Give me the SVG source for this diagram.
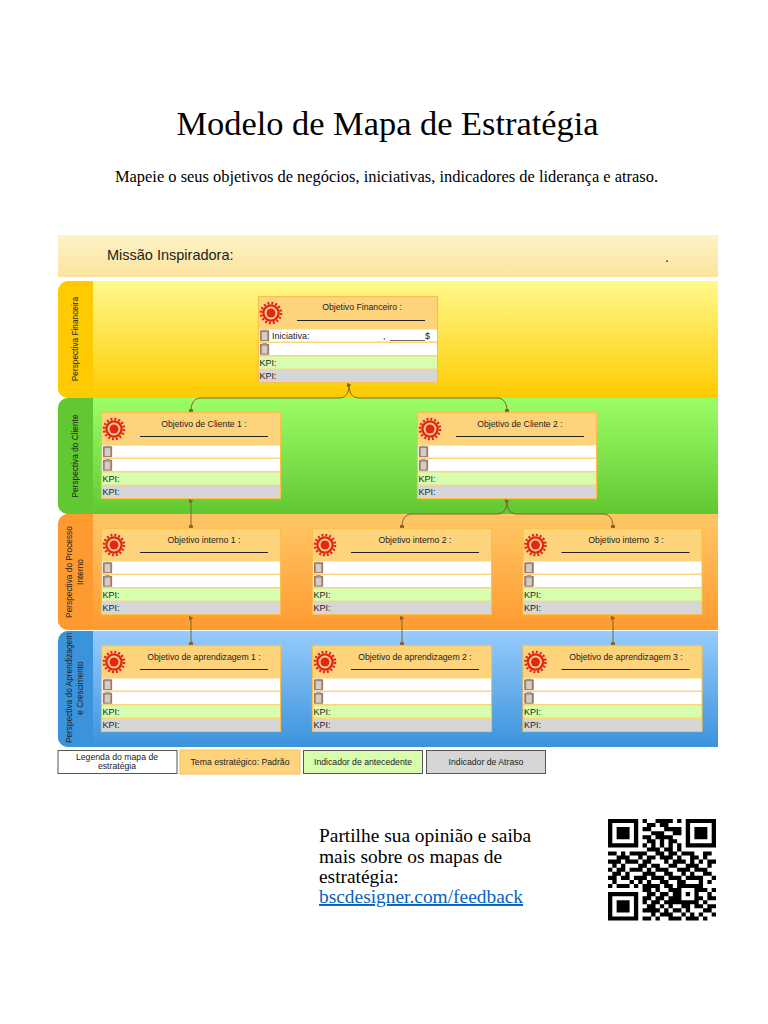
<svg xmlns="http://www.w3.org/2000/svg" width="768" height="1024" viewBox="0 0 768 1024">
<defs>
<linearGradient id="gM" x1="0" y1="0" x2="0" y2="1"><stop offset="0" stop-color="#fdf2c6"/><stop offset="1" stop-color="#fbe49f"/></linearGradient>
<linearGradient id="gF" x1="0" y1="0" x2="0" y2="1"><stop offset="0" stop-color="#fff98c"/><stop offset="1" stop-color="#ffcb00"/></linearGradient>
<linearGradient id="gC" x1="0" y1="0" x2="0" y2="1"><stop offset="0" stop-color="#9cfe66"/><stop offset="1" stop-color="#62c832"/></linearGradient>
<linearGradient id="gP" x1="0" y1="0" x2="0" y2="1"><stop offset="0" stop-color="#ffc766"/><stop offset="1" stop-color="#ff9a30"/></linearGradient>
<linearGradient id="gL" x1="0" y1="0" x2="0" y2="1"><stop offset="0" stop-color="#96cbfd"/><stop offset="1" stop-color="#3b93dc"/></linearGradient>
<symbol id="gear" width="26" height="26" viewBox="-13 -13 26 26" overflow="visible">
<circle r="10" fill="none" stroke="#e3261c" stroke-width="2.6" stroke-dasharray="2 1.93"/>
<circle r="7.600" fill="#fdd47c" stroke="#e3261c" stroke-width="2.400"/>
<circle r="4.500" fill="#e3261c"/>
</symbol>
<symbol id="clip" width="10" height="12" viewBox="0 0 10 12">
<rect x="0.2" y="0.8" width="9.600" height="11" rx="1" fill="#a5796a"/>
<rect x="2.200" y="2.600" width="5.600" height="8" fill="#cfcfc4"/>
<rect x="3" y="0" width="4" height="2" fill="#9a9a9a"/>
</symbol>
<symbol id="box" width="180" height="87" viewBox="0 0 180 87" overflow="visible">
<rect x="0.5" y="0.5" width="179" height="86" fill="#fdd47c" stroke="#fbc04a" stroke-width="1.200"/>
<rect x="1" y="33.500" width="178" height="12" fill="#fff"/>
<rect x="1" y="47" width="178" height="12" fill="#fff"/>
<rect x="1" y="60.500" width="178" height="12" fill="#d7fdaf"/>
<rect x="1" y="74" width="178" height="12" fill="#d6d6d6"/>
<use href="#gear" x="0" y="4"/>
<use href="#clip" x="1.500" y="33.500"/>
<use href="#clip" x="1.500" y="47"/>
<path d="M39 24.500h128" stroke="#222" stroke-width="1" fill="none"/>
<text class="k" x="1.500" y="70">KPI:</text>
<text class="k" x="1.500" y="83">KPI:</text>
</symbol>
<marker id="aU" markerWidth="5" markerHeight="5" refX="2.500" refY="2.500" orient="auto"><path d="M0 5L2.500 0L5 5Z" fill="#80642a"/></marker>
<marker id="aD" markerWidth="5" markerHeight="5" refX="2.500" refY="2.500"><rect x="0.5" y="0.5" width="4" height="4" rx="1" fill="#80642a"/></marker>
</defs>
<style>
text{font-family:"Liberation Sans",Arial,sans-serif;fill:#222}
.s{font-family:"Liberation Serif","Times New Roman",serif;fill:#000}
.k{font-size:9px}
.h{font-size:8.700px;text-anchor:middle}
.v{font-size:8.300px;text-anchor:middle}
.l{font-size:8.700px;text-anchor:middle}
.c{fill:none;stroke:#80642a;stroke-width:1}
</style>
<rect width="768" height="1024" fill="#fff"/>
<text class="s" x="387.500" y="135" font-size="34.400" text-anchor="middle">Modelo de Mapa de Estratégia</text>
<text class="s" x="386.500" y="182" font-size="16.450" text-anchor="middle">Mapeie o seus objetivos de negócios, iniciativas, indicadores de liderança e atraso.</text>
<g id="bands">
<rect x="58" y="235" width="660" height="42" fill="url(#gM)"/>
<text x="107" y="260" font-size="14.500">Missão Inspiradora:</text>
<text x="665" y="262" font-size="14">.</text>
<path d="M68 281H718V398H68A10 10 0 0 1 58 388V291A10 10 0 0 1 68 281Z" fill="url(#gF)"/>
<path d="M68 281H93V398H68A10 10 0 0 1 58 388V291A10 10 0 0 1 68 281Z" fill="#ffcb00"/>
<path d="M68 398H718V514H68A10 10 0 0 1 58 504V408A10 10 0 0 1 68 398Z" fill="url(#gC)"/>
<path d="M68 398H93V514H68A10 10 0 0 1 58 504V408A10 10 0 0 1 68 398Z" fill="#62c832"/>
<path d="M68 514H718V630H68A10 10 0 0 1 58 620V524A10 10 0 0 1 68 514Z" fill="url(#gP)"/>
<path d="M68 514H93V630H68A10 10 0 0 1 58 620V524A10 10 0 0 1 68 514Z" fill="#ff9a30"/>
<path d="M68 631H718V747H68A10 10 0 0 1 58 737V641A10 10 0 0 1 68 631Z" fill="url(#gL)"/>
<path d="M68 631H93V747H68A10 10 0 0 1 58 737V641A10 10 0 0 1 68 631Z" fill="#3b93dc"/>
<text class="v" transform="translate(78 339) rotate(-90)">Perspectiva Financeira</text>
<text class="v" transform="translate(78 456) rotate(-90)">Perspectiva do Cliente</text>
<text class="v" transform="translate(72 572) rotate(-90)">Perspectiva do Processo</text>
<text class="v" transform="translate(83 572) rotate(-90)">Interno</text>
<text class="v" transform="translate(72 688) rotate(-90)">Perspectiva do Aprendizagem</text>
<text class="v" transform="translate(83 688) rotate(-90)">e Crescimento</text>
</g>
<g id="connectors">
<path class="c" d="M349 385C349 394 345 398 339 398H201C195 398 191 402 191 411" marker-start="url(#aU)" marker-end="url(#aD)"/>
<path class="c" d="M349 385C349 394 353 398 359 398H497C503 398 507 402 507 411" marker-end="url(#aD)"/>
<path class="c" d="M191 501V527" marker-start="url(#aU)" marker-end="url(#aD)"/>
<path class="c" d="M507 501C507 510 503 514 497 514H412C406 514 402 518 402 527" marker-start="url(#aU)" marker-end="url(#aD)"/>
<path class="c" d="M507 501C507 510 511 514 517 514H603C609 514 613 518 613 527" marker-end="url(#aD)"/>
<path class="c" d="M191 618V644" marker-start="url(#aU)" marker-end="url(#aD)"/>
<path class="c" d="M402 618V644" marker-start="url(#aU)" marker-end="url(#aD)"/>
<path class="c" d="M613 618V644" marker-start="url(#aU)" marker-end="url(#aD)"/>
</g>
<g id="n-fin"><use href="#box" x="258" y="296"/><text class="h" x="362" y="310">Objetivo Financeiro :</text><text class="k" x="272" y="339">Iniciativa:</text><text class="k" x="383" y="339">,</text><text class="k" x="390" y="339">_______$</text></g>
<g id="n-c1"><use href="#box" x="101" y="412"/><text class="h" x="204" y="427">Objetivo de Cliente 1 :</text></g>
<g id="n-c2"><use href="#box" x="417" y="412"/><text class="h" x="520" y="427">Objetivo de Cliente 2 :</text></g>
<g id="n-p1"><use href="#box" x="101" y="528"/><text class="h" x="204" y="543">Objetivo interno 1 :</text></g>
<g id="n-p2"><use href="#box" x="312" y="528"/><text class="h" x="415" y="543">Objetivo interno 2 :</text></g>
<g id="n-p3"><use href="#box" x="522.500" y="528"/><text class="h" x="626" y="543" xml:space="preserve">Objetivo interno  3 :</text></g>
<g id="n-l1"><use href="#box" x="101" y="645"/><text class="h" x="204" y="660">Objetivo de aprendizagem 1 :</text></g>
<g id="n-l2"><use href="#box" x="312" y="645"/><text class="h" x="415" y="660">Objetivo de aprendizagem 2 :</text></g>
<g id="n-l3"><use href="#box" x="522.500" y="645"/><text class="h" x="626" y="660">Objetivo de aprendizagem 3 :</text></g>
<g id="legend">
<rect x="58" y="750.500" width="119" height="23" fill="#fff" stroke="#555"/>
<text class="l" x="117" y="759.500">Legenda do mapa de</text><text class="l" x="117" y="768.500">estratégia</text>
<rect x="180" y="750" width="120" height="24" fill="#fdd47c" stroke="#f9c14c"/>
<text class="l" x="240" y="764.500">Tema estratégico: Padrão</text>
<rect x="303.500" y="750.500" width="119" height="23" fill="#d7fdaf" stroke="#555"/>
<text class="l" x="363" y="764.500">Indicador de antecedente</text>
<rect x="426.500" y="750.500" width="119" height="23" fill="#d6d6d6" stroke="#555"/>
<text class="l" x="486" y="764.500">Indicador de Atraso</text>
</g>
<g id="footer">
<text class="s" x="319" y="842" font-size="19.400">Partilhe sua opinião e saiba</text>
<text class="s" x="319" y="863" font-size="19.400">mais sobre os mapas de</text>
<text class="s" x="319" y="883" font-size="19.400">estratégia:</text>
<text class="s" x="319" y="903" font-size="19.400" style="fill:#0563c1" text-decoration="underline">bscdesigner.com/feedback</text>
</g>
<g id="qr" transform="translate(608 819) scale(4.320 4.060)">
<path fill="#000" fill-rule="evenodd" d="M0 0h7v7h-7zM1 1v5h5v-5zM2 2h3v3h-3zM18 0h7v7h-7zM19 1v5h5v-5zM20 2h3v3h-3zM0 18h7v7h-7zM1 19v5h5v-5zM2 20h3v3h-3z"/>
<path fill="#000" d="M8 0h1v1h-1zM11 0h4v1h-4zM16 0h1v1h-1z
M9 1h2v1h-2zM12 1h2v1h-2z
M8 2h2v1h-2zM13 2h4v1h-4z
M10 3h3v1h-3zM15 3h2v1h-2z
M8 4h2v1h-2zM11 4h4v1h-4z
M9 5h2v1h-2zM12 5h1v1h-1zM14 5h2v1h-2z
M8 6h1v1h-1zM10 6h1v1h-1zM12 6h1v1h-1zM14 6h1v1h-1zM16 6h1v1h-1z
M9 7h3v1h-3zM13 7h2v1h-2zM16 7h1v1h-1z
M0 8h2v1h-2zM3 8h1v1h-1zM5 8h4v1h-4zM11 8h2v1h-2zM14 8h2v1h-2zM17 8h3v1h-3zM22 8h2v1h-2z
M2 9h3v1h-3zM7 9h1v1h-1zM9 9h2v1h-2zM12 9h3v1h-3zM16 9h1v1h-1zM19 9h2v1h-2zM22 9h1v1h-1z
M0 10h3v1h-3zM4 10h3v1h-3zM8 10h2v1h-2zM13 10h1v1h-1zM15 10h3v1h-3zM19 10h1v1h-1zM21 10h1v1h-1zM23 10h2v1h-2z
M1 11h1v1h-1zM3 11h1v1h-1zM7 11h2v1h-2zM10 11h2v1h-2zM14 11h2v1h-2zM18 11h3v1h-3zM23 11h1v1h-1z
M0 12h1v1h-1zM2 12h2v1h-2zM5 12h3v1h-3zM9 12h1v1h-1zM11 12h3v1h-3zM16 12h3v1h-3zM20 12h3v1h-3z
M1 13h2v1h-2zM4 13h1v1h-1zM8 13h3v1h-3zM13 13h2v1h-2zM17 13h1v1h-1zM19 13h1v1h-1zM22 13h2v1h-2z
M0 14h2v1h-2zM3 14h2v1h-2zM6 14h3v1h-3zM10 14h3v1h-3zM14 14h3v1h-3zM18 14h4v1h-4zM24 14h1v1h-1z
M1 15h1v1h-1zM5 15h1v1h-1zM7 15h1v1h-1zM9 15h1v1h-1zM12 15h2v1h-2zM16 15h2v1h-2zM21 15h1v1h-1zM23 15h1v1h-1z
M0 16h1v1h-1zM2 16h3v1h-3zM6 16h1v1h-1zM8 16h4v1h-4zM13 16h2v1h-2zM16 16h5v1h-5zM21 16h1v1h-1z
M8 17h2v1h-2zM11 17h1v1h-1zM14 17h3v1h-3zM20 17h3v1h-3zM24 17h1v1h-1z
M9 18h2v1h-2zM12 18h2v1h-2zM15 18h2v1h-2zM18 18h1v1h-1zM20 18h1v1h-1zM23 18h1v1h-1z
M8 19h2v1h-2zM11 19h2v1h-2zM14 19h3v1h-3zM20 19h2v1h-2zM23 19h2v1h-2z
M8 20h1v1h-1zM10 20h2v1h-2zM13 20h8v1h-8zM22 20h1v1h-1z
M9 21h2v1h-2zM12 21h1v1h-1zM14 21h1v1h-1zM17 21h2v1h-2zM20 21h2v1h-2zM23 21h2v1h-2z
M8 22h4v1h-4zM13 22h1v1h-1zM15 22h2v1h-2zM18 22h1v1h-1zM22 22h2v1h-2z
M10 23h1v1h-1zM12 23h3v1h-3zM17 23h1v1h-1zM19 23h1v1h-1zM21 23h1v1h-1zM24 23h1v1h-1z
M8 24h2v1h-2zM11 24h1v1h-1zM14 24h3v1h-3zM18 24h3v1h-3zM22 24h1v1h-1z"/>
</g>
</svg>
